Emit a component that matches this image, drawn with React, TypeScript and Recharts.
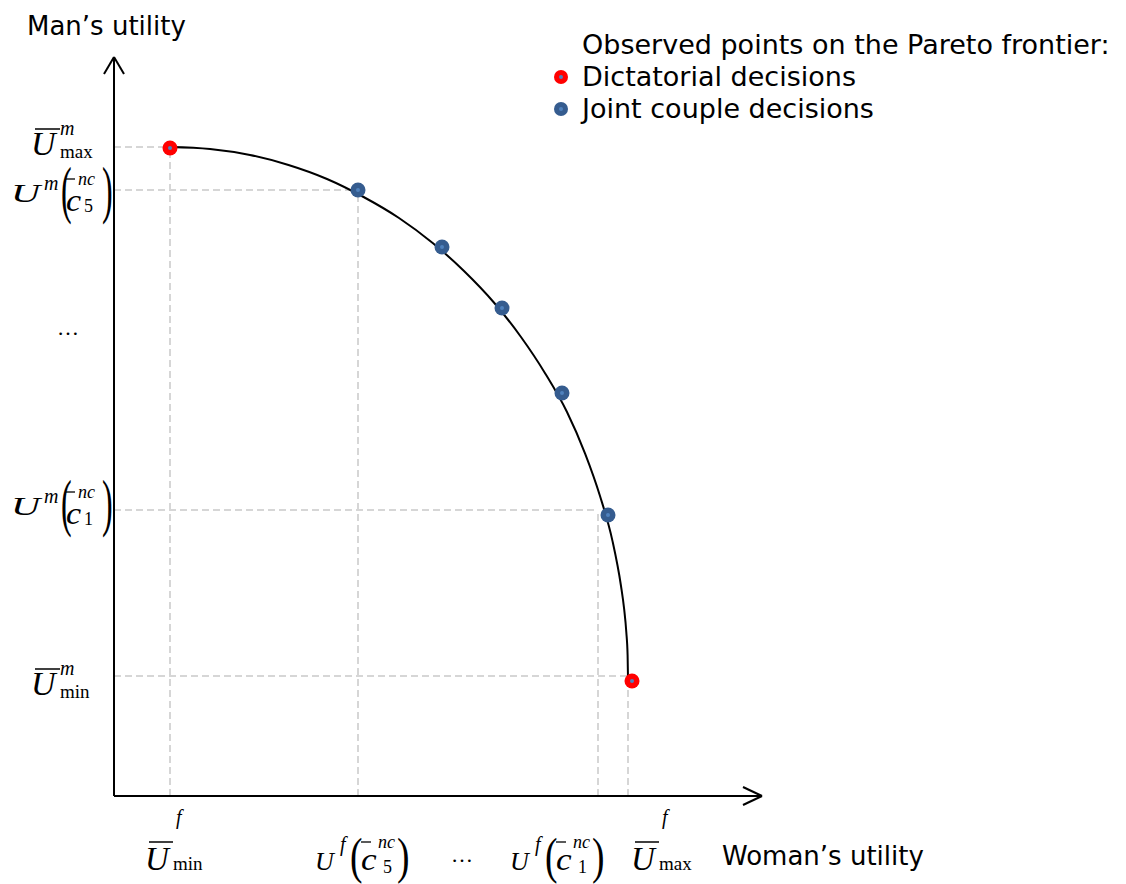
import { ComposedChart, Line, Scatter, XAxis, YAxis, ReferenceLine, Legend } from "recharts";

// utility units (1 unit ~ 1 px)
const frontierX = [56, 96, 136, 174.5, 213, 249.6, 285, 318.7, 350, 379.9, 407, 431.2, 453, 471.1, 486, 498.4, 507, 510.1, 512.3, 513.6, 514];
const frontierY = [649, 647, 641, 631, 617, 599, 578, 553, 525, 493.5, 459, 422.6, 384, 342.4, 300, 255.4, 210, 187.3, 164, 141, 118];

const dictatorialX = [56, 518];
const dictatorialY = [648, 115];
const jointX = [244, 328, 388, 448, 494];
const jointY = [606, 549, 488, 403, 281];

// dashed projections onto the axes
const guideX = [56, 244, 484, 514];
const guideY = [649, 606, 286, 120];

const xTicks = [61, 248, 348, 443, 547];
const xLabels = [
  { kind: "bar", sup: "f", sub: "min" },
  { kind: "paren", sup: "f", idx: "5" },
  { kind: "dots" },
  { kind: "paren", sup: "f", idx: "1" },
  { kind: "bar", sup: "f", sub: "max" },
];
const yTicks = [651, 606, 466, 293, 111];
const yLabels = [
  { kind: "bar", sup: "m", sub: "max" },
  { kind: "paren", sup: "m", idx: "5" },
  { kind: "dots" },
  { kind: "paren", sup: "m", idx: "1" },
  { kind: "bar", sup: "m", sub: "min" },
];

const X_MAX = 648;
const Y_MAX = 739;
const W = 1126;
const H = 884;
const Y_AXIS_W = 60;
const X_AXIS_H = 30;
const MARGIN = { top: 57, right: 364, bottom: 88 - X_AXIS_H, left: 114 - Y_AXIS_W };
const AXIS_Y = H - 88;

const SANS = "'DejaVu Sans', Verdana, sans-serif";
const SERIF = "'Liberation Serif', 'Times New Roman', serif";
const GUIDE = "#d6d6d6";

const frontier = frontierX.map((x, i) => ({ x, y: frontierY[i] }));
const dictatorial = dictatorialX.map((x, i) => ({ x, y: dictatorialY[i] }));
const joint = jointX.map((x, i) => ({ x, y: jointY[i] }));

const Dot = (props: any) => (
  <g>
    <circle cx={props.cx} cy={props.cy} r={7.5} fill={props.fill} />
    <circle cx={props.cx} cy={props.cy} r={2} fill="#4f81bd" />
  </g>
);

// a glyph squeezed or stretched horizontally
const Glyph = ({ x, y, sx, size, italic, children }: any) => (
  <text transform={`translate(${x},${y}) scale(${sx},1)`} fontSize={size} fontStyle={italic ? "italic" : "normal"}>
    {children}
  </text>
);

const XTick = (props: any) => {
  const { x, index } = props;
  const lab: any = xLabels[index];
  const b = AXIS_Y + 74;
  if (!lab) return <g />;
  if (lab.kind === "dots")
    return (
      <text x={x} y={b - 8} textAnchor="middle" fontFamily={SERIF} fontSize={22}>
        …
      </text>
    );
  if (lab.kind === "bar") {
    const l = x - 30;
    return (
      <g fontFamily={SERIF} fill="#000">
        <text x={l} y={b} fontSize={33} fontStyle="italic">U</text>
        <line x1={l + 4} x2={l + 28} y1={b - 28} y2={b - 28} stroke="#000" strokeWidth={1.5} />
        <text x={l + 31} y={b - 46} fontSize={20} fontStyle="italic">{lab.sup}</text>
        <text x={l + 28} y={b} fontSize={19}>{lab.sub}</text>
      </g>
    );
  }
  const l = x - 47;
  return (
    <g fontFamily={SERIF} fill="#000">
      <text x={l} y={b} fontSize={26} fontStyle="italic">U</text>
      <text x={l + 25} y={b - 19} fontSize={20} fontStyle="italic">{lab.sup}</text>
      <Glyph x={l + 35} y={b + 3} sx={0.75} size={50}>(</Glyph>
      <line x1={l + 46} x2={l + 56} y1={b - 28} y2={b - 28} stroke="#000" strokeWidth={1.3} />
      <Glyph x={l + 46} y={b} sx={1.1} size={32} italic>c</Glyph>
      <text x={l + 63} y={b - 22} fontSize={18} fontStyle="italic">nc</text>
      <text x={l + 68} y={b + 3} fontSize={18}>{lab.idx}</text>
      <Glyph x={l + 82} y={b + 3} sx={0.75} size={50}>)</Glyph>
    </g>
  );
};

const YTick = (props: any) => {
  const { y, index } = props;
  const lab: any = yLabels[index];
  if (!lab) return <g />;
  if (lab.kind === "dots")
    return (
      <text x={68} y={y + 5} textAnchor="middle" fontFamily={SERIF} fontSize={22}>
        …
      </text>
    );
  if (lab.kind === "bar") {
    const b = y + 10;
    const l = 31;
    return (
      <g fontFamily={SERIF} fill="#000">
        <text x={l} y={b} fontSize={34} fontStyle="italic">U</text>
        <line x1={l + 4} x2={l + 29} y1={b - 26} y2={b - 26} stroke="#000" strokeWidth={1.5} />
        <text x={l + 29} y={b - 20} fontSize={20} fontStyle="italic">{lab.sup}</text>
        <text x={l + 29} y={b + 3} fontSize={19}>{lab.sub}</text>
      </g>
    );
  }
  const b = y + 12;
  const l = 11;
  return (
    <g fontFamily={SERIF} fill="#000">
      <Glyph x={l} y={b} sx={1.55} size={26} italic>U</Glyph>
      <text x={l + 33} y={b - 12} fontSize={20} fontStyle="italic">{lab.sup}</text>
      <Glyph x={l + 50} y={b + 9} sx={0.5} size={64}>(</Glyph>
      <line x1={l + 54} x2={l + 64} y1={b - 23} y2={b - 23} stroke="#000" strokeWidth={1.3} />
      <Glyph x={l + 55} y={b + 9} sx={1.1} size={31} italic>c</Glyph>
      <text x={l + 67} y={b - 17} fontSize={18} fontStyle="italic">nc</text>
      <text x={l + 73} y={b + 10} fontSize={18}>{lab.idx}</text>
      <Glyph x={l + 91} y={b + 9} sx={0.5} size={64}>)</Glyph>
    </g>
  );
};

const LegendBox = (props: any) => {
  const items = (props.payload || []).filter((p: any) => p.type !== "none");
  return (
    <div style={{ fontFamily: SANS, fontSize: 27, lineHeight: "32px", color: "#000", whiteSpace: "nowrap" }}>
      <div style={{ paddingLeft: 28 }}>Observed points on the Pareto frontier:</div>
      {items.map((p: any) => (
        <div key={p.value} style={{ display: "flex", alignItems: "center", height: 32 }}>
          <svg width={28} height={32}>
            <circle cx={7} cy={16} r={7} fill={p.color} />
            <circle cx={7} cy={16} r={2} fill="#4f81bd" />
          </svg>
          <span>{p.value}</span>
        </div>
      ))}
    </div>
  );
};

export default function App() {
  return (
    <div style={{ position: "absolute", left: 0, top: 0, width: W, height: H, background: "#fff" }}>
      <ComposedChart width={W} height={H} margin={MARGIN}>
        <XAxis
          type="number"
          dataKey="x"
          domain={[0, X_MAX]}
          ticks={xTicks}
          interval={0}
          height={X_AXIS_H}
          tickLine={false}
          axisLine={{ stroke: "#000", strokeWidth: 2 }}
          tick={XTick}
          allowDataOverflow
        />
        <YAxis
          type="number"
          dataKey="y"
          domain={[0, Y_MAX]}
          ticks={yTicks}
          interval={0}
          width={Y_AXIS_W}
          tickLine={false}
          axisLine={{ stroke: "#000", strokeWidth: 2 }}
          tick={YTick}
          allowDataOverflow
        />

        {guideX.map((gx, i) => (
          <ReferenceLine
            key={`h${i}`}
            segment={[{ x: 0, y: guideY[i] }, { x: gx, y: guideY[i] }]}
            stroke={GUIDE}
            strokeWidth={2}
            strokeDasharray="7 4"
            ifOverflow="visible"
          />
        ))}
        {guideX.map((gx, i) => (
          <ReferenceLine
            key={`v${i}`}
            segment={[{ x: gx, y: 0 }, { x: gx, y: guideY[i] }]}
            stroke={GUIDE}
            strokeWidth={2}
            strokeDasharray="7 4"
            ifOverflow="visible"
          />
        ))}

        {/* arrow heads */}
        <ReferenceLine segment={[{ x: -10, y: Y_MAX - 17 }, { x: 0, y: Y_MAX }]} stroke="#000" strokeWidth={2} ifOverflow="visible" />
        <ReferenceLine segment={[{ x: 10, y: Y_MAX - 17 }, { x: 0, y: Y_MAX }]} stroke="#000" strokeWidth={2} ifOverflow="visible" />
        <ReferenceLine segment={[{ x: X_MAX - 19, y: 9 }, { x: X_MAX, y: 0 }]} stroke="#000" strokeWidth={2} ifOverflow="visible" />
        <ReferenceLine segment={[{ x: X_MAX - 19, y: -9 }, { x: X_MAX, y: 0 }]} stroke="#000" strokeWidth={2} ifOverflow="visible" />

        <Line
          data={frontier}
          dataKey="y"
          type="monotone"
          stroke="#000"
          strokeWidth={2}
          dot={false}
          legendType="none"
          isAnimationActive={false}
        />
        <Scatter name="Dictatorial decisions" data={dictatorial} fill="#ff0000" shape={Dot} isAnimationActive={false} />
        <Scatter name="Joint couple decisions" data={joint} fill="#355c8f" shape={Dot} isAnimationActive={false} />

        <Legend
          layout="vertical"
          align="center"
          verticalAlign="middle"
          content={LegendBox}
          wrapperStyle={{ left: 554, top: 29, width: "auto" }}
        />

        <text x={27} y={35} fontFamily={SANS} fontSize={26} fill="#000">
          Man’s utility
        </text>
        <text x={722} y={865} fontFamily={SANS} fontSize={26} fill="#000">
          Woman’s utility
        </text>
      </ComposedChart>
    </div>
  );
}
